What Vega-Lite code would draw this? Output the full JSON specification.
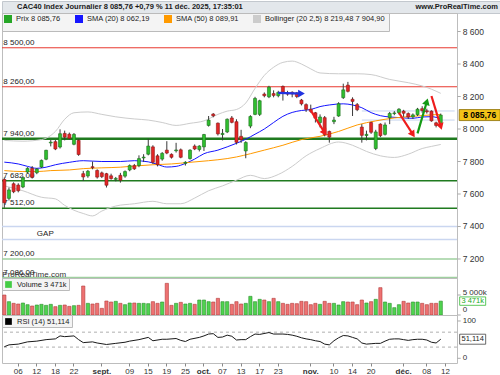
{
 "$schema": "https://vega.github.io/schema/vega-lite/v6.json",
 "padding": 0,
 "spacing": 0,
 "bounds": "flush",
 "background": "#ffffff",
 "config": {
  "font": "Liberation Sans",
  "view": {"stroke": "#bdbdbd"},
  "locale": {"number": {"decimal": ",", "thousands": " ", "grouping": [3], "currency": ["", " €"]}},
  "axis": {"labelFontSize": 8, "labelColor": "#333333", "tickColor": "#888888", "tickSize": 3, "domain": false, "grid": false, "labelPadding": 2, "labelFont": "Liberation Sans"},
  "legend": {"labelFontSize": 7.5, "labelColor": "#222222", "orient": "top-left", "offset": 0, "padding": 2, "fillColor": "#f4f4f4", "strokeColor": "#bbbbbb", "symbolType": "square", "labelLimit": 260, "labelFont": "Liberation Sans"}
 },
 "datasets": {
  "px": [
   {"d":"08-01","o":7690,"h":7702,"l":7515,"c":7546,"v":5000},
   {"d":"08-04","o":7573,"h":7640,"l":7560,"c":7625,"v":3333},
   {"d":"08-05","o":7663,"h":7672,"l":7605,"c":7614,"v":2917},
   {"d":"08-06","o":7655,"h":7666,"l":7610,"c":7620,"v":2750},
   {"d":"08-07","o":7643,"h":7712,"l":7636,"c":7700,"v":3000},
   {"d":"08-08","o":7735,"h":7765,"l":7726,"c":7758,"v":2583},
   {"d":"08-11","o":7758,"h":7772,"l":7695,"c":7703,"v":2250},
   {"d":"08-12","o":7731,"h":7760,"l":7722,"c":7754,"v":2500},
   {"d":"08-13","o":7766,"h":7812,"l":7760,"c":7807,"v":2667},
   {"d":"08-14","o":7814,"h":7872,"l":7808,"c":7869,"v":2417},
   {"d":"08-15","o":7914,"h":7932,"l":7893,"c":7919,"v":2667},
   {"d":"08-18","o":7922,"h":7932,"l":7870,"c":7877,"v":2083},
   {"d":"08-19","o":7889,"h":7998,"l":7880,"c":7971,"v":2417},
   {"d":"08-20","o":7973,"h":7990,"l":7930,"c":7950,"v":2500},
   {"d":"08-21","o":7968,"h":7978,"l":7935,"c":7942,"v":2167},
   {"d":"08-22","o":7906,"h":7975,"l":7900,"c":7967,"v":2333},
   {"d":"08-25","o":7930,"h":7938,"l":7835,"c":7843,"v":2417},
   {"d":"08-26","o":7725,"h":7742,"l":7680,"c":7705,"v":7250},
   {"d":"08-27","o":7711,"h":7748,"l":7700,"c":7740,"v":2917},
   {"d":"08-28","o":7768,"h":7800,"l":7752,"c":7762,"v":2750},
   {"d":"08-29","o":7745,"h":7752,"l":7695,"c":7704,"v":2917},
   {"d":"09-01","o":7730,"h":7738,"l":7698,"c":7707,"v":1667},
   {"d":"09-02","o":7725,"h":7730,"l":7640,"c":7654,"v":3500},
   {"d":"09-03","o":7712,"h":7725,"l":7688,"c":7695,"v":3250},
   {"d":"09-04","o":7690,"h":7705,"l":7678,"c":7696,"v":3417},
   {"d":"09-05","o":7715,"h":7730,"l":7670,"c":7685,"v":2917},
   {"d":"09-08","o":7710,"h":7745,"l":7700,"c":7738,"v":2583},
   {"d":"09-09","o":7748,"h":7782,"l":7740,"c":7775,"v":3000},
   {"d":"09-10","o":7775,"h":7785,"l":7748,"c":7755,"v":3000},
   {"d":"09-11","o":7775,"h":7838,"l":7765,"c":7818,"v":2917},
   {"d":"09-12","o":7822,"h":7845,"l":7798,"c":7827,"v":2917},
   {"d":"09-15","o":7845,"h":7940,"l":7838,"c":7895,"v":2833},
   {"d":"09-16","o":7890,"h":7900,"l":7785,"c":7795,"v":3333},
   {"d":"09-17","o":7835,"h":7845,"l":7770,"c":7780,"v":2917},
   {"d":"09-18","o":7815,"h":7858,"l":7805,"c":7850,"v":3250},
   {"d":"09-19","o":7870,"h":7925,"l":7845,"c":7852,"v":7917},
   {"d":"09-22","o":7844,"h":7850,"l":7818,"c":7826,"v":2417},
   {"d":"09-23","o":7866,"h":7915,"l":7855,"c":7871,"v":2917},
   {"d":"09-24","o":7872,"h":7880,"l":7820,"c":7826,"v":3167},
   {"d":"09-25","o":7789,"h":7802,"l":7775,"c":7795,"v":2750},
   {"d":"09-26","o":7818,"h":7875,"l":7812,"c":7870,"v":2917},
   {"d":"09-29","o":7895,"h":7905,"l":7870,"c":7877,"v":2667},
   {"d":"09-30","o":7874,"h":7900,"l":7862,"c":7895,"v":3750},
   {"d":"10-01","o":7890,"h":7970,"l":7865,"c":7966,"v":3750},
   {"d":"10-02","o":8022,"h":8080,"l":8015,"c":8055,"v":3333},
   {"d":"10-03","o":8092,"h":8098,"l":8072,"c":8081,"v":3250},
   {"d":"10-06","o":8036,"h":8040,"l":7960,"c":7970,"v":4167},
   {"d":"10-07","o":7966,"h":8000,"l":7930,"c":7973,"v":3333},
   {"d":"10-08","o":7982,"h":8065,"l":7975,"c":8060,"v":3333},
   {"d":"10-09","o":8068,"h":8080,"l":8035,"c":8041,"v":2667},
   {"d":"10-10","o":8045,"h":8060,"l":7905,"c":7918,"v":3333},
   {"d":"10-13","o":7955,"h":7995,"l":7915,"c":7934,"v":2750},
   {"d":"10-14","o":7865,"h":7925,"l":7820,"c":7917,"v":2917},
   {"d":"10-15","o":8018,"h":8085,"l":8005,"c":8077,"v":4667},
   {"d":"10-16","o":8090,"h":8198,"l":8085,"c":8188,"v":3333},
   {"d":"10-17","o":8090,"h":8180,"l":8080,"c":8174,"v":3917},
   {"d":"10-20","o":8215,"h":8225,"l":8195,"c":8205,"v":3750},
   {"d":"10-21","o":8198,"h":8266,"l":8190,"c":8258,"v":3333},
   {"d":"10-22","o":8218,"h":8238,"l":8195,"c":8207,"v":4167},
   {"d":"10-23","o":8205,"h":8235,"l":8195,"c":8225,"v":3333},
   {"d":"10-24","o":8262,"h":8268,"l":8175,"c":8228,"v":2917},
   {"d":"10-27","o":8222,"h":8235,"l":8205,"c":8215,"v":2667},
   {"d":"10-28","o":8226,"h":8232,"l":8195,"c":8216,"v":2917},
   {"d":"10-29","o":8222,"h":8228,"l":8190,"c":8200,"v":2833},
   {"d":"10-30","o":8178,"h":8185,"l":8145,"c":8155,"v":3417},
   {"d":"10-31","o":8150,"h":8158,"l":8105,"c":8121,"v":3333},
   {"d":"11-03","o":8122,"h":8150,"l":8100,"c":8109,"v":2583},
   {"d":"11-04","o":8100,"h":8105,"l":8040,"c":8067,"v":2917},
   {"d":"11-05","o":8040,"h":8090,"l":8010,"c":8074,"v":2667},
   {"d":"11-06","o":8070,"h":8080,"l":7955,"c":7965,"v":3417},
   {"d":"11-07","o":7985,"h":7990,"l":7916,"c":7950,"v":2917},
   {"d":"11-10","o":8045,"h":8075,"l":8030,"c":8055,"v":2917},
   {"d":"11-11","o":8080,"h":8165,"l":8075,"c":8156,"v":2500},
   {"d":"11-12","o":8193,"h":8279,"l":8185,"c":8241,"v":3333},
   {"d":"11-13","o":8270,"h":8290,"l":8225,"c":8232,"v":3250},
   {"d":"11-14","o":8183,"h":8195,"l":8080,"c":8170,"v":3250},
   {"d":"11-17","o":8150,"h":8160,"l":8110,"c":8119,"v":2583},
   {"d":"11-18","o":8012,"h":8030,"l":7916,"c":7961,"v":3750},
   {"d":"11-19","o":7960,"h":7990,"l":7930,"c":7967,"v":3000},
   {"d":"11-20","o":8040,"h":8045,"l":7970,"c":7980,"v":3333},
   {"d":"11-21","o":7880,"h":7995,"l":7870,"c":7982,"v":3917},
   {"d":"11-24","o":8030,"h":8035,"l":7950,"c":7959,"v":6833},
   {"d":"11-25","o":7967,"h":8040,"l":7960,"c":8025,"v":3250},
   {"d":"11-26","o":8070,"h":8105,"l":8030,"c":8096,"v":2917},
   {"d":"11-27","o":8095,"h":8110,"l":8085,"c":8099,"v":1833},
   {"d":"11-28","o":8100,"h":8128,"l":8090,"c":8122,"v":2583},
   {"d":"12-01","o":8110,"h":8118,"l":8075,"c":8097,"v":3417},
   {"d":"12-02","o":8095,"h":8102,"l":8062,"c":8074,"v":3000},
   {"d":"12-03","o":8075,"h":8096,"l":8062,"c":8087,"v":3250},
   {"d":"12-04","o":8088,"h":8130,"l":8080,"c":8122,"v":3250},
   {"d":"12-05","o":8125,"h":8140,"l":8100,"c":8114,"v":2917},
   {"d":"12-08","o":8112,"h":8125,"l":8095,"c":8106,"v":2583},
   {"d":"12-09","o":8110,"h":8115,"l":8045,"c":8050,"v":2917},
   {"d":"12-10","o":8038,"h":8045,"l":8010,"c":8022,"v":2917},
   {"d":"12-11","o":8030,"h":8095,"l":8025,"c":8085.76,"v":3471}
  ],
  "ind": [
   {"k":"s20","d":"08-01","v":7796},{"k":"s20","d":"08-06","v":7785},{"k":"s20","d":"08-08","v":7770},{"k":"s20","d":"08-12","v":7758},{"k":"s20","d":"08-14","v":7765},{"k":"s20","d":"08-18","v":7780},{"k":"s20","d":"08-21","v":7795},{"k":"s20","d":"08-26","v":7805},{"k":"s20","d":"09-01","v":7800},{"k":"s20","d":"09-05","v":7800},{"k":"s20","d":"09-10","v":7805},{"k":"s20","d":"09-15","v":7798},{"k":"s20","d":"09-17","v":7782},{"k":"s20","d":"09-19","v":7766},{"k":"s20","d":"09-23","v":7770},{"k":"s20","d":"09-25","v":7788},{"k":"s20","d":"09-29","v":7815},{"k":"s20","d":"10-01","v":7848},{"k":"s20","d":"10-06","v":7870},{"k":"s20","d":"10-08","v":7890},{"k":"s20","d":"10-10","v":7912},{"k":"s20","d":"10-14","v":7937},{"k":"s20","d":"10-16","v":7968},{"k":"s20","d":"10-20","v":8000},{"k":"s20","d":"10-22","v":8040},{"k":"s20","d":"10-24","v":8078},{"k":"s20","d":"10-28","v":8102},{"k":"s20","d":"10-30","v":8114},{"k":"s20","d":"11-03","v":8120},{"k":"s20","d":"11-05","v":8138},{"k":"s20","d":"11-07","v":8148},{"k":"s20","d":"11-12","v":8155},{"k":"s20","d":"11-14","v":8148},{"k":"s20","d":"11-18","v":8131},{"k":"s20","d":"11-20","v":8101},{"k":"s20","d":"11-24","v":8082},{"k":"s20","d":"11-26","v":8074},{"k":"s20","d":"11-28","v":8070},{"k":"s20","d":"12-03","v":8066},{"k":"s20","d":"12-05","v":8074},{"k":"s20","d":"12-09","v":8076},{"k":"s20","d":"12-11","v":8062.19},
   {"k":"s50","d":"08-01","v":7744},{"k":"s50","d":"08-07","v":7738},{"k":"s50","d":"08-12","v":7738},{"k":"s50","d":"08-15","v":7744},{"k":"s50","d":"08-21","v":7748},{"k":"s50","d":"08-26","v":7756},{"k":"s50","d":"09-01","v":7761},{"k":"s50","d":"09-05","v":7765},{"k":"s50","d":"09-10","v":7772},{"k":"s50","d":"09-16","v":7780},{"k":"s50","d":"09-22","v":7785},{"k":"s50","d":"09-26","v":7795},{"k":"s50","d":"10-02","v":7805},{"k":"s50","d":"10-08","v":7818},{"k":"s50","d":"10-10","v":7828},{"k":"s50","d":"10-15","v":7848},{"k":"s50","d":"10-20","v":7870},{"k":"s50","d":"10-24","v":7900},{"k":"s50","d":"10-30","v":7935},{"k":"s50","d":"11-05","v":7955},{"k":"s50","d":"11-11","v":7985},{"k":"s50","d":"11-17","v":8025},{"k":"s50","d":"11-21","v":8050},{"k":"s50","d":"11-27","v":8068},{"k":"s50","d":"12-03","v":8078},{"k":"s50","d":"12-09","v":8087},{"k":"s50","d":"12-11","v":8089.91},
   {"k":"bbu","d":"08-01","v":7930},{"k":"bbu","d":"08-07","v":7925},{"k":"bbu","d":"08-13","v":7935},{"k":"bbu","d":"08-18","v":7985},{"k":"bbu","d":"08-20","v":8060},{"k":"bbu","d":"08-22","v":8100},{"k":"bbu","d":"08-27","v":8105},{"k":"bbu","d":"09-01","v":8090},{"k":"bbu","d":"09-04","v":8075},{"k":"bbu","d":"09-10","v":8062},{"k":"bbu","d":"09-15","v":8055},{"k":"bbu","d":"09-18","v":8040},{"k":"bbu","d":"09-23","v":8022},{"k":"bbu","d":"09-26","v":8035},{"k":"bbu","d":"10-01","v":8050},{"k":"bbu","d":"10-06","v":8090},{"k":"bbu","d":"10-08","v":8110},{"k":"bbu","d":"10-10","v":8120},{"k":"bbu","d":"10-14","v":8160},{"k":"bbu","d":"10-16","v":8250},{"k":"bbu","d":"10-20","v":8330},{"k":"bbu","d":"10-22","v":8380},{"k":"bbu","d":"10-24","v":8410},{"k":"bbu","d":"10-28","v":8418},{"k":"bbu","d":"10-30","v":8400},{"k":"bbu","d":"11-03","v":8370},{"k":"bbu","d":"11-05","v":8345},{"k":"bbu","d":"11-11","v":8340},{"k":"bbu","d":"11-17","v":8340},{"k":"bbu","d":"11-20","v":8335},{"k":"bbu","d":"11-26","v":8305},{"k":"bbu","d":"12-02","v":8285},{"k":"bbu","d":"12-05","v":8265},{"k":"bbu","d":"12-09","v":8245},{"k":"bbu","d":"12-11","v":8219.48},
   {"k":"bbl","d":"08-01","v":7650},{"k":"bbl","d":"08-07","v":7620},{"k":"bbl","d":"08-13","v":7580},{"k":"bbl","d":"08-18","v":7570},{"k":"bbl","d":"08-20","v":7530},{"k":"bbl","d":"08-22","v":7500},{"k":"bbl","d":"08-26","v":7480},{"k":"bbl","d":"08-28","v":7465},{"k":"bbl","d":"09-01","v":7495},{"k":"bbl","d":"09-04","v":7526},{"k":"bbl","d":"09-10","v":7540},{"k":"bbl","d":"09-16","v":7555},{"k":"bbl","d":"09-19","v":7540},{"k":"bbl","d":"09-24","v":7540},{"k":"bbl","d":"09-29","v":7575},{"k":"bbl","d":"10-02","v":7620},{"k":"bbl","d":"10-07","v":7650},{"k":"bbl","d":"10-10","v":7685},{"k":"bbl","d":"10-15","v":7715},{"k":"bbl","d":"10-20","v":7695},{"k":"bbl","d":"10-23","v":7720},{"k":"bbl","d":"10-28","v":7770},{"k":"bbl","d":"10-31","v":7835},{"k":"bbl","d":"11-05","v":7880},{"k":"bbl","d":"11-11","v":7920},{"k":"bbl","d":"11-14","v":7900},{"k":"bbl","d":"11-19","v":7862},{"k":"bbl","d":"11-24","v":7835},{"k":"bbl","d":"11-27","v":7825},{"k":"bbl","d":"12-02","v":7845},{"k":"bbl","d":"12-05","v":7880},{"k":"bbl","d":"12-09","v":7893},{"k":"bbl","d":"12-11","v":7904.9}
  ],
  "rsi": [
   {"d":"08-01","r":31},{"d":"08-04","r":36},{"d":"08-06","r":38},{"d":"08-08","r":44},{"d":"08-12","r":46},{"d":"08-14","r":50},{"d":"08-18","r":52},{"d":"08-19","r":60},{"d":"08-20","r":58},{"d":"08-22","r":60},{"d":"08-25","r":50},{"d":"08-26","r":42},{"d":"08-28","r":44},{"d":"08-29","r":41},{"d":"09-02","r":37},{"d":"09-04","r":40},{"d":"09-08","r":43},{"d":"09-09","r":46},{"d":"09-11","r":50},{"d":"09-15","r":56},{"d":"09-16","r":47},{"d":"09-18","r":51},{"d":"09-19","r":51},{"d":"09-23","r":53},{"d":"09-24","r":48},{"d":"09-25","r":45},{"d":"09-26","r":51},{"d":"09-30","r":56},{"d":"10-01","r":60},{"d":"10-02","r":65},{"d":"10-03","r":66},{"d":"10-06","r":56},{"d":"10-07","r":57},{"d":"10-08","r":62},{"d":"10-09","r":59},{"d":"10-10","r":49},{"d":"10-13","r":50},{"d":"10-14","r":50},{"d":"10-15","r":58},{"d":"10-16","r":65},{"d":"10-17","r":64},{"d":"10-21","r":69},{"d":"10-22","r":65},{"d":"10-24","r":65},{"d":"10-27","r":64},{"d":"10-28","r":62},{"d":"10-29","r":59},{"d":"10-30","r":55},{"d":"10-31","r":52},{"d":"11-03","r":50},{"d":"11-04","r":47},{"d":"11-05","r":45},{"d":"11-06","r":38},{"d":"11-07","r":36},{"d":"11-10","r":47},{"d":"11-11","r":55},{"d":"11-12","r":61},{"d":"11-13","r":60},{"d":"11-14","r":56},{"d":"11-17","r":52},{"d":"11-18","r":41},{"d":"11-19","r":38},{"d":"11-20","r":39},{"d":"11-21","r":40},{"d":"11-24","r":40},{"d":"11-25","r":46},{"d":"11-26","r":51},{"d":"11-27","r":52},{"d":"11-28","r":52},{"d":"12-01","r":50},{"d":"12-02","r":48},{"d":"12-03","r":50},{"d":"12-04","r":51},{"d":"12-05","r":51},{"d":"12-08","r":49},{"d":"12-09","r":43},{"d":"12-10","r":41},{"d":"12-11","r":51.114}
  ],
  "hl": [
   {"v":8500,"t":"res"},{"v":8260,"t":"res"},{"v":7940,"t":"sup"},{"v":7682,"t":"sup2"},{"v":7512,"t":"sup2"},{"v":7400,"t":"gap"},{"v":7320,"t":"gap"},{"v":7200,"t":"tgt"},{"v":7086,"t":"tgt"}
  ],
  "pticks": [{"t":7200},{"t":7400},{"t":7600},{"t":7800},{"t":8000},{"t":8200},{"t":8400},{"t":8600}],
  "arr": [
   {"a":1,"k":"fl","d":"10-23","v":8222},{"a":1,"k":"fl","d":"10-30","v":8218},
   {"a":2,"k":"dn","d":"11-03","v":8115},{"a":2,"k":"dn","d":"11-06","v":7977},
   {"a":3,"k":"dn","d":"11-28","v":8100},{"a":3,"k":"dn","d":"12-03","v":7967},
   {"a":4,"k":"up","d":"12-04","v":7973},{"a":4,"k":"up","d":"12-08","v":8168},
   {"a":5,"k":"dn","d":"12-09","v":8203},{"a":5,"k":"dn","d":"12-11","v":8015}
  ],
  "tips": [
   {"a":1,"k":"fl","d":"10-30","v":8218},
   {"a":2,"k":"dn","d":"11-06","v":7977},
   {"a":3,"k":"dn","d":"12-03","v":7967},
   {"a":4,"k":"up","d":"12-08","v":8168},
   {"a":5,"k":"dn","d":"12-11","v":8015}
  ]
 },
 "resolve": {"scale": {"color": "independent", "fill": "independent", "stroke": "independent"}, "legend": {"color": "independent"}},
 "vconcat": [
  {
   "width": 500, "height": 12,
   "view": {"fill": "#e3e7eb", "stroke": "#c3c8ce"},
   "layer": [
    {"data": {"values": [{}]}, "mark": {"type": "text", "align": "left", "baseline": "middle", "fontSize": 7.5, "fontWeight": "bold", "color": "#1a1a1a", "dx": 15},
     "encoding": {"x": {"datum": 0, "type": "quantitative", "scale": {"domain": [0, 1]}, "axis": null}, "text": {"value": "CAC40 Index Journalier 8 085,76 +0,79 % 11 déc. 2025, 17:35:01"}}},
    {"data": {"values": [{}]}, "mark": {"type": "text", "align": "right", "baseline": "middle", "fontSize": 7.5, "fontWeight": "bold", "color": "#1a1a1a", "dx": -4},
     "encoding": {"x": {"datum": 1, "type": "quantitative", "axis": null}, "text": {"value": "www.ProRealTime.com"}}}
   ]
  },
  {
   "width": 455, "height": 265,
   "layer": [
    {"data": {"name": "hl"}, "mark": {"type": "rule"},
     "encoding": {
      "y": {"field": "v", "type": "quantitative", "scale": {"domain": [7083, 8714], "nice": false, "zero": false}, "axis": null},
      "stroke": {"condition": [{"test": "datum.t == 'res'", "value": "#e8382f"}, {"test": "datum.t == 'gap'", "value": "#cad6f0"}, {"test": "datum.t == 'tgt'", "value": "#9fd09f"}], "value": "#1f7a1f"},
      "strokeWidth": {"condition": [{"test": "datum.t == 'sup'", "value": 2.5}, {"test": "datum.t == 'res'", "value": 1}], "value": 1.5}
     }},
    {"data": {"name": "hl"}, "transform": [{"filter": "datum.t != 'gap'"}],
     "mark": {"type": "text", "align": "left", "baseline": "bottom", "dy": -1, "dx": -1, "fontSize": 8, "color": "#222222"},
     "encoding": {"x": {"datum": "08-01", "type": "ordinal", "axis": null}, "y": {"field": "v", "type": "quantitative", "axis": null}, "text": {"field": "v", "type": "quantitative", "format": ",.2f"}}},
    {"data": {"values": [{"d": "11-18", "v": 8111}, {"d": "11-18", "v": 8055}]},
     "mark": {"type": "rule", "color": "#c6d4ee", "strokeWidth": 1},
     "encoding": {"x": {"field": "d", "type": "ordinal", "axis": null}, "x2": {"datum": "12-16"}, "y": {"field": "v", "type": "quantitative", "axis": null}}},
    {"data": {"name": "ind"}, "mark": {"type": "line", "strokeWidth": 1, "interpolate": "monotone"},
     "encoding": {
      "x": {"field": "d", "type": "ordinal", "axis": null},
      "y": {"field": "v", "type": "quantitative", "axis": null},
      "color": {"field": "k", "type": "nominal",
       "scale": {"domain": ["p", "s20", "s50", "bbu", "bbl"], "range": ["#27a727", "#1515ff", "#ff9a00", "#cccccc", "#cccccc"]},
       "legend": {"title": null, "values": ["p", "s20", "s50", "bbu"], "labelExpr": "datum.value == 'p' ? 'Prix 8 085,76' : datum.value == 's20' ? 'SMA (20) 8 062,19' : datum.value == 's50' ? 'SMA (50) 8 089,91' : 'Bollinger (20 2,5) 8 219,48  7 904,90'", "direction": "horizontal", "orient": "top-left", "symbolType": "square", "symbolSize": 16, "symbolStrokeWidth": 4, "columnPadding": 8, "symbolOpacity": 1}}
     }},
    {"data": {"name": "px"}, "mark": {"type": "rule", "color": "#3a3a3a", "strokeWidth": 1},
     "encoding": {
      "x": {"field": "d", "type": "ordinal", "axis": null, "scale": {"paddingInner": 0.35, "paddingOuter": 0.175, "domain": ["08-01","08-04","08-05","08-06","08-07","08-08","08-11","08-12","08-13","08-14","08-15","08-18","08-19","08-20","08-21","08-22","08-25","08-26","08-27","08-28","08-29","09-01","09-02","09-03","09-04","09-05","09-08","09-09","09-10","09-11","09-12","09-15","09-16","09-17","09-18","09-19","09-22","09-23","09-24","09-25","09-26","09-29","09-30","10-01","10-02","10-03","10-06","10-07","10-08","10-09","10-10","10-13","10-14","10-15","10-16","10-17","10-20","10-21","10-22","10-23","10-24","10-27","10-28","10-29","10-30","10-31","11-03","11-04","11-05","11-06","11-07","11-10","11-11","11-12","11-13","11-14","11-17","11-18","11-19","11-20","11-21","11-24","11-25","11-26","11-27","11-28","12-01","12-02","12-03","12-04","12-05","12-08","12-09","12-10","12-11","12-12","12-15","12-16"]}},
      "y": {"field": "l", "type": "quantitative", "axis": null},
      "y2": {"field": "h"}
     }},
    {"data": {"name": "px"}, "mark": {"type": "bar", "strokeWidth": 0.6},
     "encoding": {
      "x": {"field": "d", "type": "ordinal", "axis": null},
      "y": {"field": "o", "type": "quantitative", "axis": null},
      "y2": {"field": "c"},
      "fill": {"condition": {"test": "datum.c >= datum.o", "value": "#2fbf2f"}, "value": "#e32626"},
      "stroke": {"condition": {"test": "datum.c >= datum.o", "value": "#1d6e1d"}, "value": "#8a1717"}
     }},
    {"data": {"name": "arr"}, "mark": {"type": "line", "strokeWidth": 2.2},
     "encoding": {
      "x": {"field": "d", "type": "ordinal", "axis": null},
      "y": {"field": "v", "type": "quantitative", "axis": null},
      "detail": {"field": "a", "type": "nominal"},
      "stroke": {"field": "k", "type": "nominal", "scale": {"domain": ["dn", "up", "fl"], "range": ["#ee1c1c", "#149a14", "#2233e0"]}, "legend": null}
     }},
    {"data": {"name": "tips"}, "mark": {"type": "point", "filled": true, "size": 60, "opacity": 1},
     "encoding": {
      "x": {"field": "d", "type": "ordinal", "axis": null},
      "y": {"field": "v", "type": "quantitative", "axis": null},
      "fill": {"field": "k", "type": "nominal", "scale": {"domain": ["dn", "up", "fl"], "range": ["#ee1c1c", "#149a14", "#2233e0"]}, "legend": null},
      "shape": {"condition": [{"test": "datum.k == 'up'", "value": "triangle-up"}, {"test": "datum.k == 'fl'", "value": "triangle-right"}], "value": "triangle-down"},
      "angle": {"condition": [{"test": "datum.a == 2", "value": 328}, {"test": "datum.a == 3", "value": 327}, {"test": "datum.a == 4", "value": 16}, {"test": "datum.a == 5", "value": 343}], "value": 0}
     }},
    {"data": {"values": [{}]}, "mark": {"type": "text", "align": "left", "fontSize": 8, "color": "#222222"},
     "encoding": {"x": {"datum": "08-12", "type": "ordinal", "axis": null}, "y": {"datum": 7354, "type": "quantitative", "axis": null}, "text": {"value": "GAP"}}},
    {"data": {"values": [{}]}, "mark": {"type": "text", "align": "left", "fontSize": 8, "color": "#333333", "dx": -2},
     "encoding": {"x": {"datum": "08-01", "type": "ordinal", "axis": null}, "y": {"datum": 7103, "type": "quantitative", "axis": null}, "text": {"value": "ProRealTime.com"}}},
    {"data": {"name": "pticks"}, "mark": {"type": "tick", "orient": "horizontal", "size": 3, "thickness": 1, "color": "#888888", "xOffset": 4.5},
     "encoding": {"x": {"datum": "12-16", "type": "ordinal", "axis": null}, "y": {"field": "t", "type": "quantitative", "axis": null}}},
    {"data": {"name": "pticks"}, "mark": {"type": "text", "align": "left", "baseline": "middle", "dx": 8, "fontSize": 8.5, "color": "#333333"},
     "encoding": {"x": {"datum": "12-16", "type": "ordinal", "axis": null}, "y": {"field": "t", "type": "quantitative", "axis": null}, "text": {"field": "t", "type": "quantitative", "format": ",.0f"}}},
    {"data": {"values": [{}]}, "mark": {"type": "point", "shape": "M-2.05,-0.55H2.05V0.55H-2.05Z", "size": 400, "filled": true, "fill": "#f3c318", "stroke": "#8a6d00", "strokeWidth": 0.8, "opacity": 1, "xOffset": 25},
     "encoding": {"x": {"datum": "12-16", "type": "ordinal", "axis": null}, "y": {"datum": 8085.76, "type": "quantitative", "axis": null}}},
    {"data": {"values": [{}]}, "mark": {"type": "text", "fontSize": 8.5, "fontWeight": "bold", "color": "#000000", "dx": 25, "baseline": "middle"},
     "encoding": {"x": {"datum": "12-16", "type": "ordinal", "axis": null}, "y": {"datum": 8085.76, "type": "quantitative", "axis": null}, "text": {"value": "8 085,76"}}}
   ]
  },
  {
   "width": 455, "height": 37,
   "layer": [
    {"data": {"name": "px"}, "mark": {"type": "bar", "strokeWidth": 0.6},
     "encoding": {
      "x": {"field": "d", "type": "ordinal", "axis": null, "scale": {"paddingInner": 0.3, "paddingOuter": 0.15, "domain": ["08-01","08-04","08-05","08-06","08-07","08-08","08-11","08-12","08-13","08-14","08-15","08-18","08-19","08-20","08-21","08-22","08-25","08-26","08-27","08-28","08-29","09-01","09-02","09-03","09-04","09-05","09-08","09-09","09-10","09-11","09-12","09-15","09-16","09-17","09-18","09-19","09-22","09-23","09-24","09-25","09-26","09-29","09-30","10-01","10-02","10-03","10-06","10-07","10-08","10-09","10-10","10-13","10-14","10-15","10-16","10-17","10-20","10-21","10-22","10-23","10-24","10-27","10-28","10-29","10-30","10-31","11-03","11-04","11-05","11-06","11-07","11-10","11-11","11-12","11-13","11-14","11-17","11-18","11-19","11-20","11-21","11-24","11-25","11-26","11-27","11-28","12-01","12-02","12-03","12-04","12-05","12-08","12-09","12-10","12-11","12-12","12-15","12-16"]}},
      "y": {"field": "v", "type": "quantitative", "scale": {"domain": [0, 9250], "nice": false}, "axis": null},
      "fill": {"condition": {"test": "datum.c >= datum.o", "value": "#4fd34f"}, "value": "#ee7272"},
      "stroke": {"condition": {"test": "datum.c >= datum.o", "value": "#2c8f2c"}, "value": "#b23b3b"}
     }},
    {"data": {"values": [{}]}, "mark": {"type": "point", "filled": true, "opacity": 0},
     "encoding": {"x": {"datum": "08-01", "type": "ordinal", "axis": null}, "y": {"datum": 0, "type": "quantitative", "axis": null},
      "color": {"datum": "Volume 3 471k", "type": "nominal", "scale": {"range": ["#44cc44"]}, "legend": {"title": null, "symbolOpacity": 1, "symbolType": "square", "symbolSize": 45, "orient": "top-left"}}}},
    {"data": {"values": [{"t": 0}, {"t": 5000}]}, "mark": {"type": "tick", "orient": "horizontal", "size": 3, "thickness": 1, "color": "#888888", "xOffset": 4.5},
     "encoding": {"x": {"datum": "12-16", "type": "ordinal", "axis": null}, "y": {"field": "t", "type": "quantitative", "axis": null}}},
    {"data": {"values": [{"t": 5000}]}, "mark": {"type": "text", "align": "left", "baseline": "bottom", "dx": 8, "dy": 2, "fontSize": 8, "color": "#333333"},
     "encoding": {"x": {"datum": "12-16", "type": "ordinal", "axis": null}, "y": {"field": "t", "type": "quantitative", "axis": null}, "text": {"value": "5 000k"}}},
    {"data": {"values": [{"t": 0}]}, "mark": {"type": "text", "align": "left", "baseline": "bottom", "dx": 8, "dy": -1, "fontSize": 8, "color": "#333333"},
     "encoding": {"x": {"datum": "12-16", "type": "ordinal", "axis": null}, "y": {"field": "t", "type": "quantitative", "axis": null}, "text": {"value": "0"}}},
    {"data": {"values": [{}]}, "mark": {"type": "point", "shape": "M-1.3,-0.42H1.3V0.42H-1.3Z", "size": 400, "filled": true, "fill": "#ffffff", "stroke": "#33bb33", "strokeWidth": 0.8, "opacity": 1, "xOffset": 18},
     "encoding": {"x": {"datum": "12-16", "type": "ordinal", "axis": null}, "y": {"datum": 3471, "type": "quantitative", "axis": null}}},
    {"data": {"values": [{}]}, "mark": {"type": "text", "fontSize": 7.5, "color": "#22aa22", "dx": 18, "baseline": "middle"},
     "encoding": {"x": {"datum": "12-16", "type": "ordinal", "axis": null}, "y": {"datum": 3471, "type": "quantitative", "axis": null}, "text": {"value": "3 471k"}}}
   ]
  },
  {
   "width": 455, "height": 48,
   "layer": [
    {"data": {"values": [{"y": 70}, {"y": 30}]}, "mark": {"type": "rule", "color": "#9a9a9a", "strokeDash": [3, 3], "strokeWidth": 0.8},
     "encoding": {"y": {"field": "y", "type": "quantitative", "scale": {"domain": [-12.6, 116], "nice": false, "zero": false}, "axis": null}}},
    {"data": {"name": "rsi"}, "mark": {"type": "line", "color": "#1a1a1a", "strokeWidth": 1},
     "encoding": {
      "x": {"field": "d", "type": "ordinal",
       "scale": {"paddingInner": 0.35, "paddingOuter": 0.175, "domain": ["08-01","08-04","08-05","08-06","08-07","08-08","08-11","08-12","08-13","08-14","08-15","08-18","08-19","08-20","08-21","08-22","08-25","08-26","08-27","08-28","08-29","09-01","09-02","09-03","09-04","09-05","09-08","09-09","09-10","09-11","09-12","09-15","09-16","09-17","09-18","09-19","09-22","09-23","09-24","09-25","09-26","09-29","09-30","10-01","10-02","10-03","10-06","10-07","10-08","10-09","10-10","10-13","10-14","10-15","10-16","10-17","10-20","10-21","10-22","10-23","10-24","10-27","10-28","10-29","10-30","10-31","11-03","11-04","11-05","11-06","11-07","11-10","11-11","11-12","11-13","11-14","11-17","11-18","11-19","11-20","11-21","11-24","11-25","11-26","11-27","11-28","12-01","12-02","12-03","12-04","12-05","12-08","12-09","12-10","12-11","12-12","12-15","12-16"]},
       "axis": {"values": ["08-06","08-12","08-18","08-22","09-01","09-09","09-15","09-19","09-25","10-01","10-07","10-13","10-17","10-23","11-03","11-10","11-14","11-20","12-01","12-08","12-12"],
        "labelExpr": "datum.value == '09-01' ? 'sept.' : datum.value == '10-01' ? 'oct.' : datum.value == '11-03' ? 'nov.' : datum.value == '12-01' ? 'déc.' : substring(datum.value, 3, 5)",
        "labelFontWeight": {"condition": {"test": "indexof(['09-01','10-01','11-03','12-01'], datum.value) >= 0", "value": "bold"}, "value": "normal"},
        "labelAngle": 0, "labelPadding": 1, "tickSize": 3, "title": null}},
      "y": {"field": "r", "type": "quantitative", "axis": null}
     }},
    {"data": {"values": [{}]}, "mark": {"type": "point", "filled": true, "opacity": 0},
     "encoding": {"x": {"datum": "08-01", "type": "ordinal"}, "y": {"datum": 50, "type": "quantitative", "axis": null},
      "color": {"datum": "RSI (14) 51,114", "type": "nominal", "scale": {"range": ["#000000"]}, "legend": {"title": null, "symbolOpacity": 1, "symbolType": "square", "symbolSize": 45, "orient": "top-left"}}}},
    {"data": {"values": [{"t": 0}, {"t": 100}]}, "mark": {"type": "tick", "orient": "horizontal", "size": 3, "thickness": 1, "color": "#888888", "xOffset": 4.5},
     "encoding": {"x": {"datum": "12-16", "type": "ordinal"}, "y": {"field": "t", "type": "quantitative", "axis": null}}},
    {"data": {"values": [{"t": 0}, {"t": 100}]}, "mark": {"type": "text", "align": "left", "baseline": "middle", "dx": 8, "fontSize": 8, "color": "#333333"},
     "encoding": {"x": {"datum": "12-16", "type": "ordinal"}, "y": {"field": "t", "type": "quantitative", "axis": null}, "text": {"field": "t", "type": "quantitative"}}},
    {"data": {"values": [{}]}, "mark": {"type": "point", "shape": "M-1.3,-0.5H1.3V0.5H-1.3Z", "size": 400, "filled": true, "fill": "#ffffff", "stroke": "#444444", "strokeWidth": 0.8, "opacity": 1, "xOffset": 18},
     "encoding": {"x": {"datum": "12-16", "type": "ordinal"}, "y": {"datum": 51.114, "type": "quantitative", "axis": null}}},
    {"data": {"values": [{}]}, "mark": {"type": "text", "fontSize": 7.5, "color": "#222222", "dx": 18, "baseline": "middle"},
     "encoding": {"x": {"datum": "12-16", "type": "ordinal"}, "y": {"datum": 51.114, "type": "quantitative", "axis": null}, "text": {"value": "51,114"}}}
   ]
  }
 ]
}
